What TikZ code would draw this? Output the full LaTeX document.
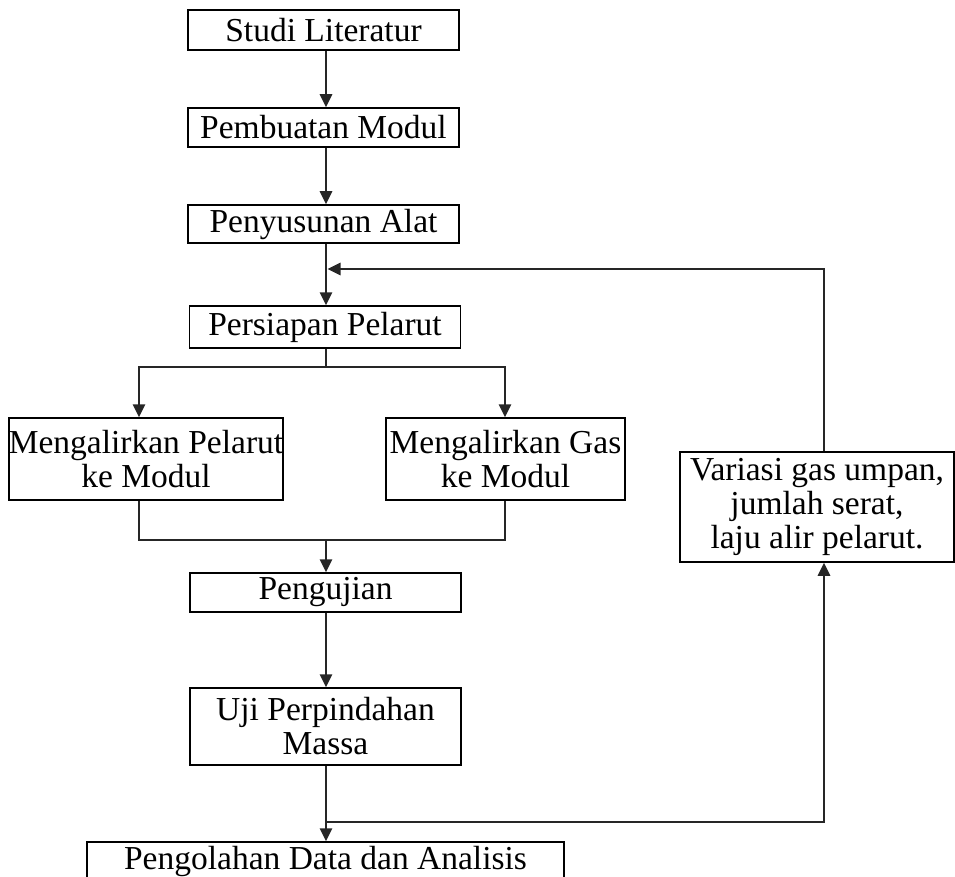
\documentclass[tikz,border=0pt]{standalone}
\usepackage{fontspec}
\setmainfont{Liberation Serif}
\usetikzlibrary{arrows.meta,calc}
\begin{document}
\begin{tikzpicture}[x=1pt,y=-1pt,
  box/.style={draw=black,line width=1.5pt,inner sep=0pt,align=center,
    font=\fontsize{33.5}{34}\selectfont},
  conn/.style={line width=2.7pt,draw=black!85},
  arr/.style={conn,-{Triangle[length=13pt,width=12pt]}}]
\useasboundingbox (0,0) rectangle (955,877);
\clip (0,0) rectangle (955,877);
% nodes
\node[box,minimum width=271pt,minimum height=40pt] (studi) at (323.5,30) {Studi Literatur};
\node[box,minimum width=271pt,minimum height=39pt] (pemb) at (323.5,127.5) {Pembuatan Modul};
\node[box,minimum width=271pt,minimum height=38pt] (peny) at (323.5,224) {Penyusunan Alat};
\node[box,minimum width=271pt,minimum height=42pt] (pers) at (325,327) {Persiapan Pelarut};
\node[box,minimum width=272pt,minimum height=82pt] (mpel) at (146,459) {Mengalirkan Pelarut\\ke Modul};
\node[box,minimum width=239pt,minimum height=82pt] (mgas) at (505.5,459) {Mengalirkan Gas\\ke Modul};
\node[box,minimum width=274pt,minimum height=110pt] (var) at (817,507) {Variasi gas umpan,\\jumlah serat,\\laju alir pelarut.};
\node[box,minimum width=271pt,minimum height=39pt] (peng) at (325.5,592.5) {Pengujian};
\node[box,minimum width=271pt,minimum height=77pt] (uji) at (325.5,726.5) {Uji Perpindahan\\Massa};
\node[box,minimum width=477pt,minimum height=39pt] (olah) at (325.5,861.5) {Pengolahan Data dan Analisis};
% helper coordinates
\coordinate (mx) at (326,0);
\coordinate (lx) at (139,0);
\coordinate (rx) at (505,0);
\coordinate (vx) at (824,0);
\coordinate (loopy) at (0,269);
\coordinate (splity) at (0,367);
\coordinate (mergey) at (0,540);
\coordinate (fby) at (0,822);
% connectors
\draw[arr] (studi.south -| mx) -- (pemb.north -| mx);
\draw[arr] (pemb.south -| mx) -- (peny.north -| mx);
\draw[arr] (peny.south -| mx) -- (pers.north -| mx);
\draw[conn] (pers.south -| mx) -- (splity -| mx);
\draw[arr] (splity -| mx) -- (splity -| lx) -- (mpel.north -| lx);
\draw[arr] (splity -| mx) -- (splity -| rx) -- (mgas.north -| rx);
\draw[conn] (mpel.south -| lx) -- (mergey -| lx) -- (mergey -| rx) -- (mgas.south -| rx);
\draw[arr] (mergey -| mx) -- (peng.north -| mx);
\draw[arr] (peng.south -| mx) -- (uji.north -| mx);
\draw[arr] (uji.south -| mx) -- (olah.north -| mx);
\draw[arr] (fby -| mx) -- (fby -| vx) -- (var.south -| vx);
\draw[arr] (var.north -| vx) -- (loopy -| vx) -- ($(loopy -| mx)+(1.5,0)$);
\end{tikzpicture}
\end{document}
